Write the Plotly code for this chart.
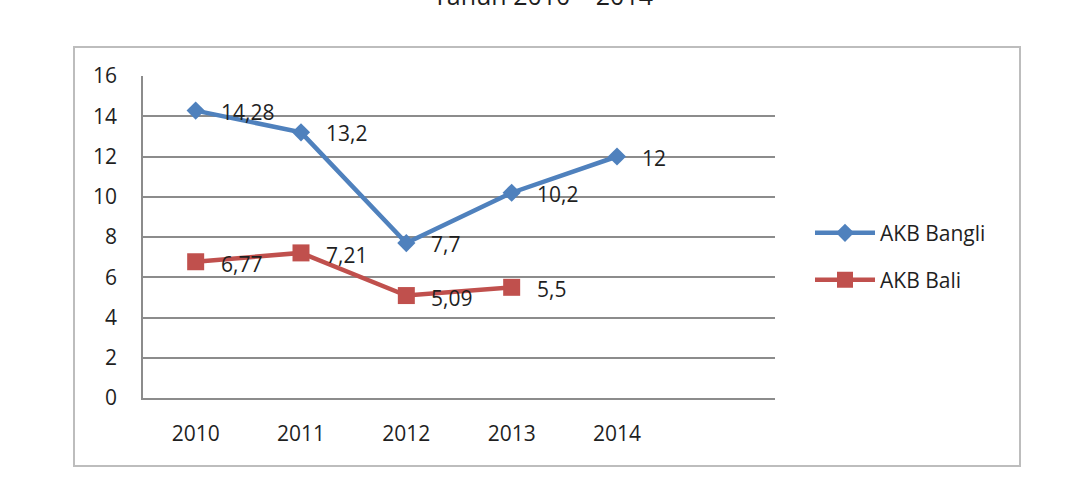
import plotly.graph_objects as go

years = ["2010", "2011", "2012", "2013", "2014"]
bangli = [14.28, 13.2, 7.7, 10.2, 12]
bali = [6.77, 7.21, 5.09, 5.5]
bangli_labels = ["14,28", "13,2", "7,7", "10,2", "12"]
bali_labels = ["6,77", "7,21", "5,09", "5,5"]

BLUE = "#4F81BD"
RED = "#C0504D"
FONT = "Open Sans"
TXT = "#1f1f1f"

xs = list(range(len(years)))

fig = go.Figure()
fig.add_trace(go.Scatter(
    x=xs, y=bangli, mode="lines+markers", name="AKB Bangli",
    line=dict(color=BLUE, width=4.5),
    marker=dict(symbol="diamond", size=14, color=BLUE),
    legend="legend",
))
fig.add_trace(go.Scatter(
    x=xs[:len(bali)], y=bali, mode="lines+markers", name="AKB Bali",
    line=dict(color=RED, width=4.5),
    marker=dict(symbol="square", size=17, color=RED),
    legend="legend2",
))

anns = []
for xv, yv, t in zip(xs, bangli, bangli_labels):
    anns.append(dict(x=xv, y=yv, text=t, xref="x", yref="y", showarrow=False,
                     xanchor="left", yanchor="middle", xshift=23, yshift=-1,
                     font=dict(family=FONT, size=21, color=TXT)))
for xv, yv, t in zip(xs, bali, bali_labels):
    anns.append(dict(x=xv, y=yv, text=t, xref="x", yref="y", showarrow=False,
                     xanchor="left", yanchor="middle", xshift=23, yshift=-2,
                     font=dict(family=FONT, size=21, color=TXT)))
anns.append(dict(x=(543 - 143) / 632, y=(398 - 14) / 322, xref="paper", yref="paper",
                 text="Tahun 2010 \u2013 2014",
                 showarrow=False, xanchor="center", yanchor="bottom",
                 font=dict(family=FONT, size=25, color=TXT)))

fig.update_layout(
    width=1092, height=490,
    margin=dict(l=143, r=317, t=76, b=92),
    paper_bgcolor="white", plot_bgcolor="white",
    font=dict(family=FONT, size=21, color=TXT),
    annotations=anns,
    showlegend=True,
    legend=dict(x=(810 - 143) / 632, y=0.512, xanchor="left", yanchor="middle",
                font=dict(family=FONT, size=21, color=TXT), bgcolor="rgba(0,0,0,0)",
                itemwidth=60),
    legend2=dict(x=(810 - 143) / 632, y=0.366, xanchor="left", yanchor="middle",
                 font=dict(family=FONT, size=21, color=TXT), bgcolor="rgba(0,0,0,0)",
                 itemwidth=60),
    shapes=[dict(type="rect", xref="paper", yref="paper",
                 x0=(74 - 143) / 632, x1=(1020 - 143) / 632,
                 y0=(398 - 466) / 322, y1=(398 - 47) / 322,
                 line=dict(color="#BDBDBD", width=2), layer="below")],
)
fig.update_xaxes(
    range=[-0.5, 5.5], tickvals=xs, ticktext=years,
    showgrid=False, zeroline=False,
    showline=True, linecolor="#8C8C8C", linewidth=1.5,
    ticks="outside", ticklen=16, tickcolor="rgba(0,0,0,0)",
    tickfont=dict(family=FONT, size=21, color=TXT),
)
fig.update_yaxes(
    range=[0, 16], dtick=2,
    showgrid=True, gridcolor="#8C8C8C", gridwidth=1.5,
    zeroline=False,
    showline=True, linecolor="#8C8C8C", linewidth=1.5,
    ticks="outside", ticklen=20, tickcolor="rgba(0,0,0,0)",
    tickfont=dict(family=FONT, size=21, color=TXT),
)

fig.write_html("out.html")
